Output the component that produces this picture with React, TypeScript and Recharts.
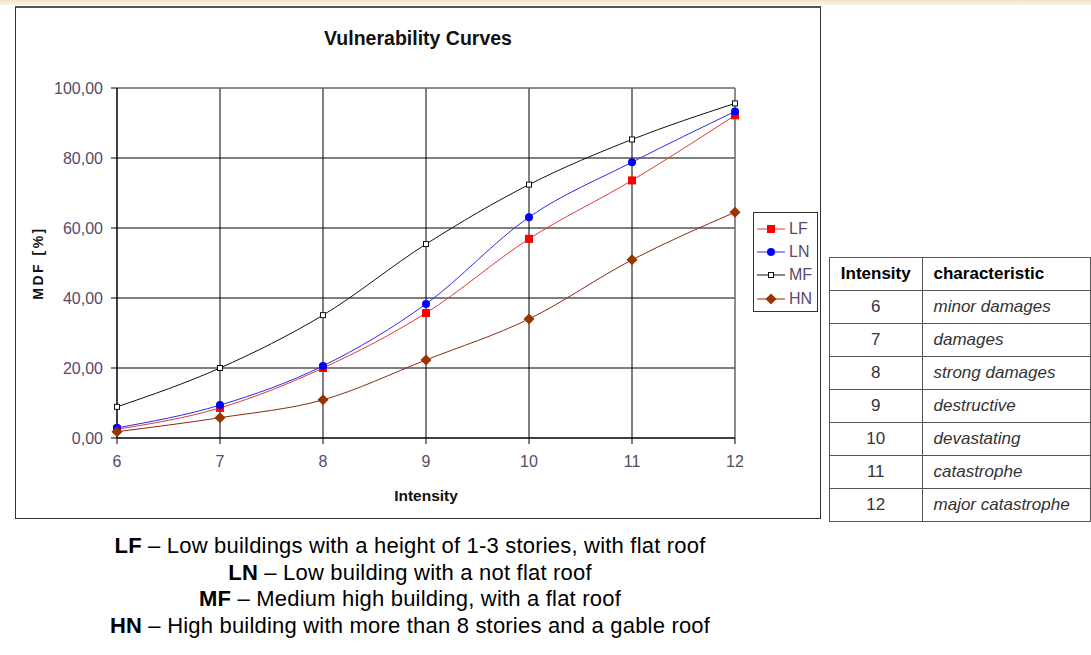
import React from "react";
import {
  LineChart,
  Line,
  XAxis,
  YAxis,
  CartesianGrid,
  Legend,
  ReferenceLine,
  Label,
} from "recharts";

// values (MDF in %)
const intensity = [6, 7, 8, 9, 10, 11, 12];
const lfValues = [2.5, 8.6, 20.0, 35.7, 56.9, 73.6, 92.2];
const lnValues = [2.9, 9.4, 20.6, 38.3, 63.1, 78.8, 93.3];
const mfValues = [8.9, 20.0, 35.1, 55.4, 72.4, 85.3, 95.6];
const hnValues = [1.8, 5.8, 10.9, 22.3, 34.0, 50.9, 64.5];
const yTicks = [0, 20, 40, 60, 80, 100];

const characteristics = [
  "minor damages",
  "damages",
  "strong damages",
  "destructive",
  "devastating",
  "catastrophe",
  "major catastrophe",
];

const noteKeys = ["LF", "LN", "MF", "HN"];
const noteTexts = [
  "Low buildings with a height of 1-3 stories, with flat roof",
  "Low building with a not flat roof",
  "Medium high building, with a flat roof",
  "High building with more than 8 stories and a gable roof",
];

const chartData = intensity.map((x, i) => ({
  x,
  LF: lfValues[i],
  LN: lnValues[i],
  MF: mfValues[i],
  HN: hnValues[i],
}));

const font = "'Liberation Sans', Arial, sans-serif";
const tickColor = "#574a6b";

type Shape = "square" | "circle" | "open" | "diamond";
const series: { name: string; line: string; fill: string; shape: Shape }[] = [
  { name: "LF", line: "#e23a36", fill: "#ff0000", shape: "square" },
  { name: "LN", line: "#2a2af0", fill: "#0000ff", shape: "circle" },
  { name: "MF", line: "#111111", fill: "#ffffff", shape: "open" },
  { name: "HN", line: "#8a2a14", fill: "#993300", shape: "diamond" },
];

const marker = (shape: Shape, cx: number, cy: number, fill: string, key?: any) => {
  if (shape === "square")
    return <rect key={key} x={cx - 4} y={cy - 4} width={8} height={8} fill={fill} />;
  if (shape === "circle")
    return <circle key={key} cx={cx} cy={cy} r={4} fill={fill} />;
  if (shape === "open")
    return (
      <rect key={key} x={cx - 2.5} y={cy - 2.5} width={5} height={5} fill="#fff" stroke="#111" strokeWidth={1} />
    );
  return (
    <polygon
      key={key}
      points={`${cx},${cy - 5.5} ${cx + 5.5},${cy} ${cx},${cy + 5.5} ${cx - 5.5},${cy}`}
      fill={fill}
    />
  );
};

const dotFor = (shape: Shape, fill: string) => (props: any) =>
  marker(shape, props.cx, props.cy, fill, props.index);

const renderLegend = () => (
  <div
    style={{
      border: "1px solid #333",
      background: "#fff",
      width: 65,
      height: 100,
      boxSizing: "border-box",
      paddingTop: 4,
    }}
  >
    {series.map((s) => (
      <div key={s.name} style={{ display: "flex", alignItems: "center", height: 23.3 }}>
        <svg width={31} height={12} style={{ marginLeft: 3 }}>
          <line x1={0} x2={28} y1={6} y2={6} stroke={s.line} strokeWidth={1} />
          {marker(s.shape, 14, 6, s.fill)}
        </svg>
        <span style={{ fontSize: 16, color: tickColor, fontFamily: font, marginLeft: 1 }}>
          {s.name}
        </span>
      </div>
    ))}
  </div>
);

const cell: React.CSSProperties = {
  border: "1px solid #555",
  height: 32,
  padding: 0,
  fontSize: 17,
  fontFamily: font,
  color: "#333",
};

export default function App() {
  return (
    <div style={{ position: "absolute", left: 0, top: 0, width: 1091, height: 655, background: "#fff", overflow: "hidden" }}>
      <div
        style={{
          position: "absolute",
          left: 0,
          top: 0,
          width: 1091,
          height: 5,
          background: "linear-gradient(to bottom, #f2e2c2, #fbf5ea)",
        }}
      />
      <div
        style={{
          position: "absolute",
          left: 15,
          top: 6,
          width: 806,
          height: 513,
          borderLeft: "1px solid #333",
          borderRight: "1px solid #333",
          borderBottom: "1px solid #333",
          borderTop: "2px solid #555",
          boxSizing: "border-box",
          background: "#fff",
        }}
      />
      <div
        style={{
          position: "absolute",
          left: 15,
          top: 27,
          width: 806,
          textAlign: "center",
          fontFamily: font,
          fontWeight: "bold",
          fontSize: 19.5,
          color: "#111",
        }}
      >
        Vulnerability Curves
      </div>
      <div style={{ position: "absolute", left: 15, top: 7 }}>
        <LineChart
          width={806}
          height={512}
          data={chartData}
          margin={{ top: 81, right: 86, left: 8, bottom: 21 }}
        >
          <CartesianGrid stroke="#000" strokeWidth={1} />
          <ReferenceLine y={100} stroke="#999" strokeWidth={1} />
          <ReferenceLine x={12} stroke="#999" strokeWidth={1} />
          <XAxis
            dataKey="x"
            type="number"
            domain={[6, 12]}
            ticks={intensity}
            height={60}
            stroke="#000"
            tickSize={6}
            tickMargin={12}
            tick={{ fill: tickColor, fontSize: 16, fontFamily: font }}
          >
            <Label
              value="Intensity"
              position="insideBottom"
              offset={-3}
              style={{ fontWeight: "bold", fontSize: 15.5, fontFamily: font, fill: "#111" }}
            />
          </XAxis>
          <YAxis
            type="number"
            domain={[0, 100]}
            ticks={yTicks}
            width={94}
            stroke="#000"
            tickSize={6}
            tickMargin={8}
            tickFormatter={(v: number) => v.toFixed(2).replace(".", ",")}
            tick={{ fill: tickColor, fontSize: 16, fontFamily: font }}
          >
            <Label
              value="MDF [%]"
              angle={-90}
              position="insideLeft"
              offset={15}
              style={{
                textAnchor: "middle",
                fontWeight: "bold",
                fontSize: 14,
                letterSpacing: 2.5,
                fontFamily: font,
                fill: "#111",
              }}
            />
          </YAxis>
          <Legend
            layout="vertical"
            align="center"
            verticalAlign="middle"
            content={renderLegend}
            wrapperStyle={{ left: 738, top: 205, width: 65 }}
          />
          {series.map((s) => (
            <Line
              key={s.name}
              type="monotone"
              dataKey={s.name}
              stroke={s.line}
              strokeWidth={1}
              dot={dotFor(s.shape, s.fill)}
              activeDot={false}
              isAnimationActive={false}
            />
          ))}
        </LineChart>
      </div>
      <table
        style={{
          position: "absolute",
          left: 829,
          top: 257,
          borderCollapse: "collapse",
          background: "#fff",
        }}
      >
        <thead>
          <tr>
            <th style={{ ...cell, width: 96, color: "#000", textAlign: "center" }}>Intensity</th>
            <th style={{ ...cell, width: 166, color: "#000", textAlign: "left", paddingLeft: 11 }}>
              characteristic
            </th>
          </tr>
        </thead>
        <tbody>
          {intensity.map((v, i) => (
            <tr key={v}>
              <td style={{ ...cell, textAlign: "center" }}>{v}</td>
              <td style={{ ...cell, fontStyle: "italic", paddingLeft: 11 }}>{characteristics[i]}</td>
            </tr>
          ))}
        </tbody>
      </table>
      <div
        style={{
          position: "absolute",
          left: 0,
          top: 533,
          width: 820,
          textAlign: "center",
          fontFamily: font,
          fontSize: 22,
          letterSpacing: 0.2,
          lineHeight: "26.6px",
          color: "#000",
        }}
      >
        {noteKeys.map((k, i) => (
          <div key={k}>
            <b>{k}</b> – {noteTexts[i]}
          </div>
        ))}
      </div>
    </div>
  );
}
